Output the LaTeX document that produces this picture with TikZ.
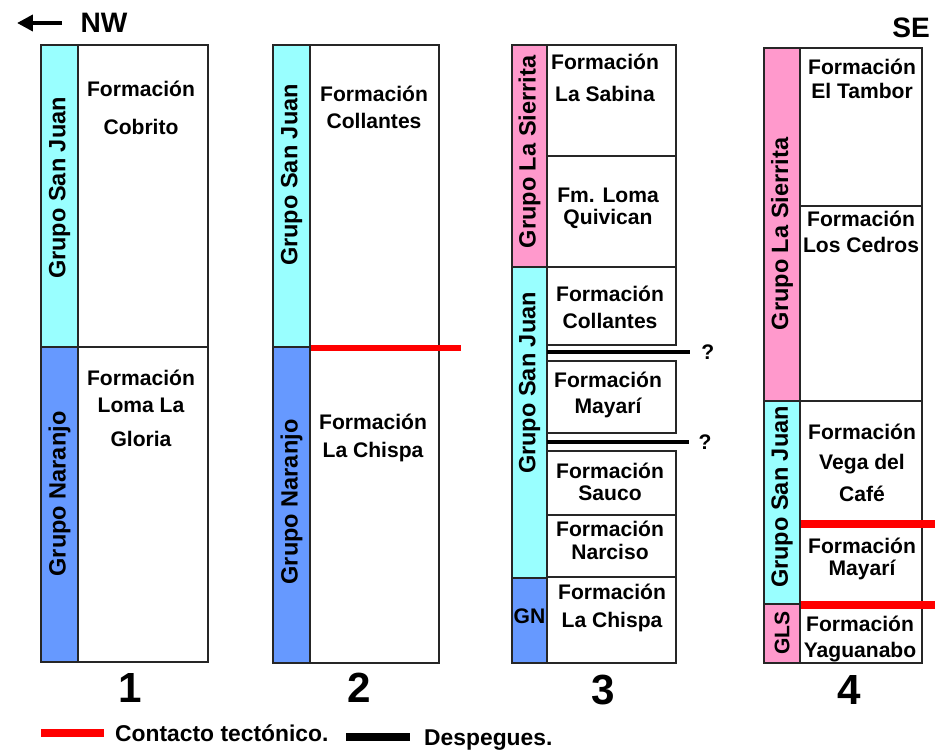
\documentclass[tikz,border=0pt]{standalone}
\usepackage{fontspec}
\setmainfont{Liberation Sans}
\usepackage{tikz}
\usetikzlibrary{positioning, arrows.meta}

\definecolor{sjcyan}{HTML}{99FFFF}
\definecolor{gnblue}{HTML}{6699FF}
\definecolor{lspink}{HTML}{FF99CC}

\tikzset{
  frm/.style={draw=black!85, line width=0.9pt, fill=white},
  bar/.style={draw=black!85, line width=0.9pt},
  fm/.style={font=\bfseries\fontsize{12}{13}\selectfont, align=center, inner sep=0pt},
  grp/.style={font=\bfseries\fontsize{13.4}{15}\selectfont, rotate=90, inner sep=0pt},
  num/.style={font=\bfseries\fontsize{24}{26}\selectfont},
  tect/.style={red, line width=3.6pt},
  desp/.style={black, line width=2.4pt}
}

\begin{document}
\begin{tikzpicture}[x=0.02cm, y=-0.02cm]
        \useasboundingbox (0,0) rectangle (935,750);

        % direccion
        \draw[-{Triangle[length=9pt,width=9pt]}, line width=2.2pt] (62,23) -- (17,23);
        \node (nw) [font=\bfseries\fontsize{16}{18}\selectfont] at (104,23) {NW};
        \node (se) [font=\bfseries\fontsize{16}{18}\selectfont] at (911,28) {SE};

        % columna 1
        \filldraw[bar, fill=sjcyan] (41,45) rectangle (78,347);
        \filldraw[bar, fill=gnblue] (41,347) rectangle (78,662);
        \draw[frm] (78,45) rectangle (208,347);
        \draw[frm] (78,347) rectangle (208,662);
        \node (gsj1) [grp] at (59.5,188) {Grupo San Juan};
        \node (gn1) [grp] at (59.5,494) {Grupo Naranjo};
        \node (cobrito) [fm] at (141,108) {Formación\\[8.5pt]Cobrito};
        \node (lomalagloria) [fm] at (141,408) {Formación\\[2.3pt]Loma La\\[6.3pt]Gloria};
        \node (n1) [num] at (130,688) {1};

        % columna 2
        \filldraw[bar, fill=sjcyan] (273,45) rectangle (310,347);
        \filldraw[bar, fill=gnblue] (273,347) rectangle (310,663);
        \draw[frm] (310,45) rectangle (439,347);
        \draw[frm] (310,347) rectangle (439,663);
        \node (gsj2) [grp] at (291.5,175) {Grupo San Juan};
        \node (gn2) [grp] at (291.5,502) {Grupo Naranjo};
        \node (collantes2) [fm] at (374,107) {Formación\\[2.3pt]Collantes};
        \node (lachispa2) [fm] at (373,438) {Formación\\[2.9pt]La Chispa};
        \draw[tect] (311,348) -- (461,348);
        \node (n2) [num] at (359,688) {2};

        % columna 3
        \filldraw[bar, fill=lspink] (512,45) rectangle (547,267);
        \filldraw[bar, fill=sjcyan] (512,267) rectangle (547,578);
        \filldraw[bar, fill=gnblue] (512,578) rectangle (547,663);
        \draw[frm] (547,45) rectangle (676,156);
        \draw[frm] (547,156) rectangle (676,267);
        \draw[frm] (547,267) rectangle (676,345);
        \draw[frm] (547,361) rectangle (676,433);
        \draw[frm] (547,451) rectangle (676,515);
        \draw[frm] (547,515) rectangle (676,577);
        \draw[frm] (547,577) rectangle (676,663);
        \node (gls3) [grp] at (529.5,152) {Grupo La Sierrita};
        \node (gsj3) [grp] at (529.5,383) {Grupo San Juan};
        \node (gn3) [font=\bfseries\fontsize{12}{13}\selectfont] at (529.5,616) {GN};
        \node (lasabina) [fm] at (605,78) {Formación\\[5.1pt]La Sabina};
        \node (quivican) [fm] at (608,208) {Fm. Loma\\[-0.5pt]Quivican};
        \node (collantes3) [fm] at (610,307) {Formación\\[2.3pt]Collantes};
        \node (mayari3) [fm] at (608,395) {Formación\\[2.3pt]Mayarí};
        \node (sauco) [fm] at (610,482) {Formación\\[-0.5pt]Sauco};
        \node (narciso) [fm] at (610,540) {Formación\\[0pt]Narciso};
        \node (lachispa3) [fm] at (612,608) {Formación\\[2.9pt]La Chispa};
        \draw[desp] (547,352) -- (690,352) node (q1) [right=2pt, font=\bfseries\fontsize{12}{13}\selectfont] {?};
        \draw[desp] (547,442) -- (689,442) node (q2) [right=1pt, font=\bfseries\fontsize{12}{13}\selectfont] {?};
        \node (n3) [num] at (603,690) {3};

        % columna 4
        \filldraw[bar, fill=lspink] (764,48) rectangle (800,401);
        \filldraw[bar, fill=sjcyan] (764,401) rectangle (800,604);
        \filldraw[bar, fill=lspink] (764,604) rectangle (800,663);
        \draw[frm] (800,48) rectangle (922,206);
        \draw[frm] (800,206) rectangle (922,401);
        \draw[frm] (800,401) rectangle (922,523);
        \draw[frm] (800,523) rectangle (922,605);
        \draw[frm] (800,605) rectangle (922,663);
        \node (gls4) [grp] at (782,234) {Grupo La Sierrita};
        \node (gsj4) [grp] at (782,497) {Grupo San Juan};
        \node (gls4b) [grp, font=\bfseries\fontsize{12}{13}\selectfont] at (782,633) {GLS};
        \node (eltambor) [fm] at (862,79) {Formación\\[0.6pt]El Tambor};
        \node (loscedros) [fm] at (861,232) {Formación\\[1.7pt]Los Cedros};
        \node (vegacafe) [fm] at (862,463) {Formación\\[4pt]Vega del\\[5.1pt]Café};
        \node (mayari4) [fm] at (862,559) {Formación\\[0pt]Mayarí};
        \node (yaguanabo) [fm] at (860,639) {Formación\\[2.3pt]Yaguanabo};
        \draw[tect, line width=4.5pt] (801,524) -- (935,524);
        \draw[tect, line width=4.5pt] (801,605) -- (935,605);
        \node (n4) [num] at (849,690) {4};

        % leyenda
        \draw[red, line width=4pt] (41,733) -- (104,733);
        \node (ltect) [anchor=west, font=\bfseries\fontsize{13}{15}\selectfont] at (109,733) {Contacto tectónico.};
        \draw[black, line width=4pt] (346,737) -- (410,737);
        \node (ldesp) [anchor=west, font=\bfseries\fontsize{13}{15}\selectfont] at (418,740) {Despegues.};
\end{tikzpicture}
\end{document}
